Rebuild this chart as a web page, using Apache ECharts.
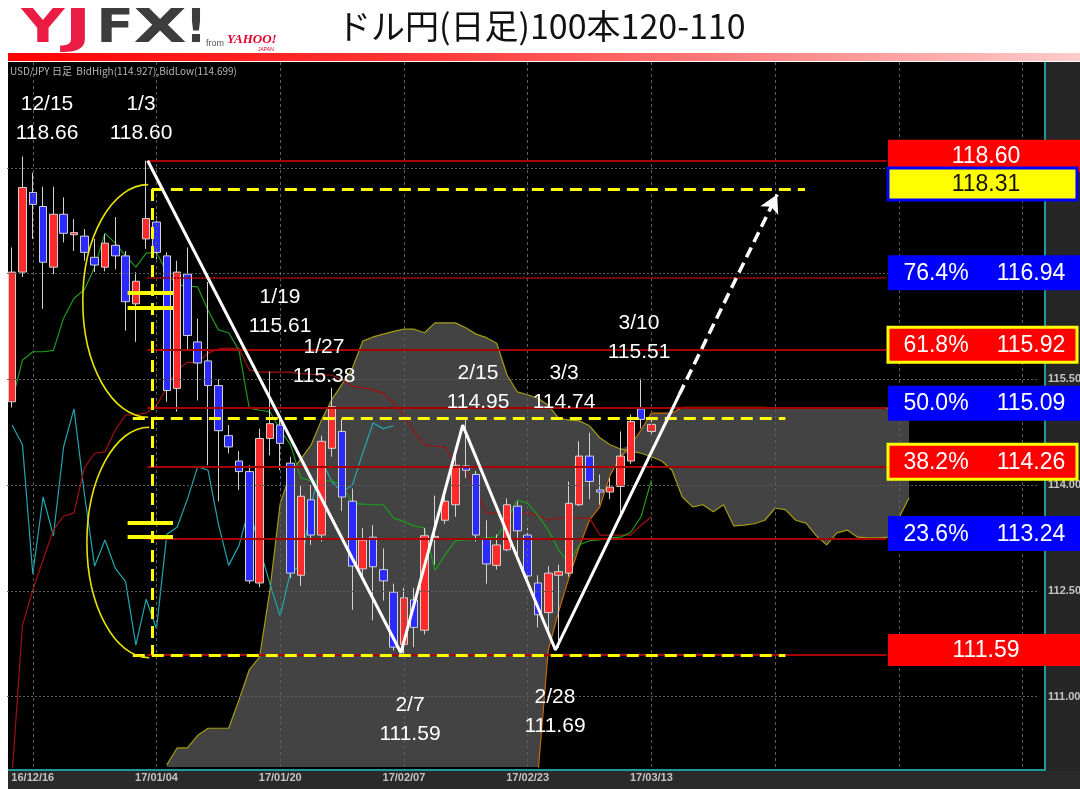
<!DOCTYPE html>
<html>
<head>
<meta charset="utf-8">
<script src="https://cdn.jsdelivr.net/npm/echarts@6/dist/echarts.min.js"></script>
<style>
  html, body { margin: 0; padding: 0; background: #fff; }
  #chart { width: 1080px; height: 789px; }
</style>
</head>
<body>
<div id="chart"></div>
<script>
// USD/JPY daily, 100 slots (63 candles + room for the shifted cloud)
const SLOTS = 100;
const dates = [
  '16/12/14','16/12/15','16/12/16','16/12/19','16/12/20','16/12/21','16/12/22','16/12/23','16/12/26','16/12/27',
  '16/12/28','16/12/29','16/12/30','17/01/03','17/01/04','17/01/05','17/01/06','17/01/09','17/01/10','17/01/11',
  '17/01/12','17/01/13','17/01/16','17/01/17','17/01/18','17/01/19','17/01/20','17/01/23','17/01/24','17/01/25',
  '17/01/26','17/01/27','17/01/30','17/01/31','17/02/01','17/02/02','17/02/03','17/02/06','17/02/07','17/02/08',
  '17/02/09','17/02/10','17/02/13','17/02/14','17/02/15','17/02/16','17/02/17','17/02/20','17/02/21','17/02/22',
  '17/02/23','17/02/24','17/02/27','17/02/28','17/03/01','17/03/02','17/03/03','17/03/06','17/03/07','17/03/08',
  '17/03/09','17/03/10','17/03/13'
];
const opens = [
  115.18,117.02,118.15,117.95,117.09,117.84,117.55,117.53,117.23,117.09,
  117.40,117.25,116.57,117.49,117.73,117.25,115.37,116.99,116.03,115.76,
  115.41,114.70,114.34,114.19,112.61,114.66,114.85,114.31,112.72,113.79,
  113.29,114.52,114.76,113.77,112.81,113.26,112.80,112.48,111.74,112.37,
  111.94,113.25,113.50,113.72,114.27,114.15,113.24,112.86,113.08,113.70,
  113.29,112.61,112.19,112.72,112.75,113.72,114.41,113.93,113.90,113.98,
  114.34,115.08,114.76
];
const closes = [
  117.02,118.22,117.98,117.16,117.84,117.57,117.58,117.30,117.12,117.43,
  117.25,116.60,116.89,117.78,117.30,115.34,117.02,116.12,115.73,115.41,
  114.77,114.54,114.19,112.64,114.66,114.87,114.59,112.75,113.84,113.29,
  114.62,115.11,113.83,112.85,113.22,112.84,112.64,111.70,112.40,111.98,
  113.28,113.27,113.77,114.28,114.21,113.29,112.88,113.15,113.72,113.35,
  112.71,112.16,112.75,112.77,113.74,114.41,114.05,113.90,113.97,114.41,
  114.90,114.93,114.86
];
const lows = [
  115.10,116.95,117.49,116.50,116.99,117.44,117.32,117.18,117.02,117.03,
  117.06,116.19,116.03,117.35,117.20,115.18,115.04,115.90,115.20,114.28,
  113.77,114.45,113.93,112.60,112.55,114.42,114.21,112.68,112.57,113.15,
  113.20,114.40,113.63,112.23,112.68,112.08,112.36,111.65,111.59,111.70,
  111.88,112.87,113.45,113.55,114.10,113.20,112.60,112.80,113.06,113.00,
  112.64,111.98,111.93,111.69,112.70,113.70,113.80,113.72,113.80,113.57,
  114.30,114.80,114.70
];
const highs = [
  117.37,118.66,118.43,118.23,118.23,118.08,117.77,117.63,117.49,117.56,
  117.80,117.32,117.02,118.60,117.81,117.30,117.18,117.37,116.36,116.88,
  115.50,114.85,114.48,114.28,114.80,115.61,114.98,114.40,114.00,114.00,
  114.70,115.38,114.94,113.95,113.39,113.43,113.10,112.60,112.54,112.54,
  113.39,113.85,113.95,114.45,114.95,114.20,113.50,113.30,113.81,113.77,
  113.39,112.72,112.85,112.87,114.05,114.62,114.74,114.15,114.10,114.76,
  115.00,115.51,114.93
];

// ichimoku lines
const tenkan = [
  115.20,115.77,115.89,115.89,115.91,116.37,116.65,116.77,117.09,117.57,
  117.43,117.25,117.09,117.29,117.30,117.01,116.84,116.82,116.81,116.48,
  116.20,116.16,115.91,115.09,115.06,115.04,114.78,114.57,114.10,114.06,
  114.06,114.06,114.00,113.74,113.73,113.72,113.72,113.53,113.48,113.42,
  113.39,112.79,113.01,113.21,113.22,113.23,113.25,113.26,113.50,113.79,
  113.74,113.57,113.36,113.08,112.89,113.15,113.21,113.22,113.25,113.26,
  113.33,113.55,114.07
];
const kijun = [
  109.90,112.01,112.51,112.94,113.36,113.56,113.60,114.24,114.45,114.47,
  114.78,114.99,115.00,115.02,115.13,115.38,115.63,115.74,115.74,115.87,
  115.93,115.94,115.94,115.63,115.60,115.60,115.60,115.60,115.58,115.57,
  115.56,115.56,115.49,115.40,115.38,115.35,115.30,115.16,114.99,114.75,
  114.57,114.55,114.54,114.28,114.21,113.93,113.60,113.60,113.60,113.60,
  113.60,113.57,113.50,113.53,113.53,113.53,113.53,113.29,113.29,113.29,
  113.29,113.43,113.55
];
const chikou = [
  114.85,114.57,112.74,113.83,113.28,114.55,115.08,113.88,112.85,113.22,
  112.82,112.63,111.73,112.38,111.96,113.30,113.40,113.80,114.26,114.21,
  113.45,112.86,113.14,113.68,113.10,112.60,112.14,112.77,112.85,113.70,
  114.35,114.05,113.90,114.00,114.45,114.88,114.80,114.84
];
const spanAStart = 15;
const spanA = [
  110.03,110.27,110.27,110.45,110.55,110.55,110.55,110.95,111.38,111.56,
  112.51,113.74,114.17,114.37,114.57,114.92,115.21,115.43,115.66,116.04,
  116.10,116.14,116.18,116.21,116.21,116.16,116.30,116.30,116.30,116.23,
  116.14,116.09,116.01,115.56,115.32,115.28,115.23,115.13,114.95,114.92,
  114.91,114.84,114.67,114.57,114.51,114.48,114.45,114.40,114.34,114.21,
  113.83,113.69,113.72,113.62,113.72,113.42,113.43,113.45,113.50,113.67,
  113.65,113.50,113.46,113.28,113.15,113.32,113.36,113.26,113.25,113.25,
  113.26,113.53,113.82
];
const spanBStart = 51;
const spanB = [
  109.90,111.66,112.20,112.68,113.12,113.50,113.69,114.14,114.40,114.57,
  114.78,115.02,115.02,115.02,115.10,115.10,115.10,115.10,115.10,115.10,
  115.10,115.10,115.10,115.09,115.09,115.09,115.09,115.09,115.09,115.09,
  115.09,115.09,115.09,115.09,115.09,115.09,115.09
];

// axes
const yMin = 110, yMax = 120;
const tickLabels = [111, 112.5, 114, 115.5, 117, 118.5];
const labelSlots = [2, 14, 26, 38, 50, 62];
const gridSlots = [2, 14, 26, 38, 50, 62, 74, 86, 98];

// drawn annotations (slot, price)
const fibLevels = [118.60, 116.94, 115.92, 115.09, 114.26, 113.24, 111.59];
const zigzag = [[13.15, 118.60], [37.7, 111.62], [43.7, 114.85], [52.7, 111.66], [64.7, 115.28]];
const arrowLeg = [[64.7, 115.28], [74.2, 118.12]];
const yellowH = [[13.55, 76.9, 118.20], [11.7, 75.0, 114.95], [11.7, 75.0, 111.59]];
const yellowV = [13.55, 118.20, 111.59];
const eqMarks = [116.72, 116.52, 113.46, 113.26];
const ellipses = [[13.2, 118.26, 114.96, 6.85], [13.3, 114.82, 111.55, 7.25]];

const notes = [
  ['12/15', '118.66', 47, 104], ['1/3', '118.60', 141, 104], ['1/19', '115.61', 280, 297],
  ['1/27', '115.38', 324, 347], ['2/15', '114.95', 478, 373], ['3/3', '114.74', 564, 373],
  ['3/10', '115.51', 639, 323], ['2/7', '111.59', 410, 705], ['2/28', '111.69', 555, 697]
];
const boxes = [
  { level: 118.60, pct: '', text: '118.60', kind: 'red' },
  { level: 118.20, pct: '', text: '118.31', kind: 'yellow' },
  { level: 116.94, pct: '76.4%', text: '116.94', kind: 'blue' },
  { level: 115.92, pct: '61.8%', text: '115.92', kind: 'redY' },
  { level: 115.09, pct: '50.0%', text: '115.09', kind: 'blue' },
  { level: 114.26, pct: '38.2%', text: '114.26', kind: 'redY' },
  { level: 113.24, pct: '23.6%', text: '113.24', kind: 'blue' },
  { level: 111.59, pct: '', text: '111.59', kind: 'red' }
];

const pad = (start, arr) => Array.from({ length: SLOTS }, (_, i) => {
  const k = i - start;
  return k >= 0 && k < arr.length ? arr[k] : null;
});
const cats = Array.from({ length: SLOTS }, (_, i) => dates[i] || ('+' + i));
const A = pad(spanAStart, spanA);
const B = pad(spanBStart, spanB);
// cloud: below-chart span B before it appears -> fill down to the floor
const cloudBase = A.map((a, i) => a == null ? null : Math.min(a, B[i] == null ? yMin : B[i]));
const cloudBand = A.map((a, i) => a == null ? null : Math.abs(a - (B[i] == null ? yMin : B[i])));
const candles = opens.map((o, i) => [o, closes[i], lows[i], highs[i]]);

const thinLine = (name, data, color) => ({
  name, type: 'line', data, symbol: 'none', z: 3, silent: true,
  lineStyle: { color, width: 1.2 }
});

const chart = echarts.init(document.getElementById('chart'));
chart.setOption({
  animation: false,
  backgroundColor: '#fff',
  grid: { left: 7, right: 42, top: 62, bottom: 22, outerBoundsMode: 'none', containLabel: false },
  xAxis: [
    {
      type: 'category', data: cats, boundaryGap: true,
      axisLine: { show: false }, axisTick: { show: false }, splitLine: { show: false },
      axisLabel: {
        interval: (i) => labelSlots.includes(i),
        color: '#c4c4c4', fontSize: 11, fontWeight: 'bold', margin: 5,
        fontFamily: 'Liberation Sans Narrow, Liberation Sans, sans-serif'
      }
    },
    { type: 'value', min: -0.5, max: 99.5, show: false, position: 'top' }
  ],
  yAxis: {
    type: 'value', position: 'right', min: yMin, max: yMax, interval: 0.5,
    splitLine: { show: false }, axisLine: { show: false }, axisTick: { show: false },
    axisLabel: {
      margin: 10, color: '#c4c4c4', fontSize: 11, fontWeight: 'bold',
      fontFamily: 'Liberation Sans Narrow, Liberation Sans, sans-serif',
      formatter: (v) => tickLabels.includes(Math.round(v * 10) / 10) ? v.toFixed(3) : ''
    }
  },
  series: [
    {
      name: 'kumoBase', type: 'line', stack: 'kumo', data: cloudBase, symbol: 'none',
      lineStyle: { width: 0, opacity: 0 }, z: 1, silent: true
    },
    {
      name: 'kumo', type: 'line', stack: 'kumo', data: cloudBand, symbol: 'none',
      lineStyle: { width: 0, opacity: 0 }, areaStyle: { color: '#434343', opacity: 1 },
      z: 1, silent: true
    },
    {
      name: 'grid', type: 'line', data: [], z: 2, silent: true,
      markLine: {
        silent: true, symbol: 'none', label: { show: false }, animation: false,
        data: [
          ...tickLabels.map((v) => ({ yAxis: v, lineStyle: { color: '#5c5c5c', width: 1, type: [2, 2] } })),
          ...gridSlots.map((s) => ({ xAxis: s, lineStyle: { color: '#5c5c5c', width: 1, type: [3, 3] } }))
        ]
      }
    },
    thinLine('spanA', A, '#a39c12'),
    thinLine('spanB', B, '#c96a05'),
    thinLine('chikou', chikou, '#22a6b0'),
    thinLine('kijun', kijun, '#a31212'),
    thinLine('tenkan', tenkan, '#1c9c1c'),
    {
      name: 'fib', type: 'line', xAxisIndex: 1, data: [], z: 3, silent: true,
      markLine: {
        silent: true, symbol: 'none', label: { show: false }, animation: false,
        data: fibLevels.map((v) => [
          { coord: [13.1, v], lineStyle: { color: '#a80000', width: 2, type: v === 116.94 ? [2, 1] : 'solid' } },
          { coord: [84.8, v] }
        ])
      }
    },
    {
      name: 'candles', type: 'candlestick', data: candles, barWidth: 8, z: 4, silent: true,
      itemStyle: {
        color: '#ff2b2b', color0: '#2b2bff',
        borderColor: '#d2d2d2', borderColor0: '#d2d2d2', borderColorDoji: '#d2d2d2', borderWidth: 1
      }
    },
    {
      name: 'zigzag', type: 'line', xAxisIndex: 1, data: zigzag, symbol: 'none', z: 6, silent: true,
      lineStyle: { color: '#ffffff', width: 3 },
      markLine: {
        silent: true, symbol: 'none', label: { show: false }, animation: false,
        data: [
          ...yellowH.map(([x0, x1, v]) => [
            { coord: [x0, v], lineStyle: { color: '#ffff00', width: 3, type: [12, 7] } },
            { coord: [x1, v] }
          ]),
          [
            { coord: [yellowV[0], yellowV[1]], lineStyle: { color: '#ffff00', width: 3, type: [12, 7] } },
            { coord: [yellowV[0], yellowV[2]] }
          ],
          ...eqMarks.map((v) => [
            { coord: [11.2, v], lineStyle: { color: '#ffff00', width: 4, type: 'solid' } },
            { coord: [15.6, v] }
          ]),
          [
            { coord: arrowLeg[0], symbol: 'none', lineStyle: { color: '#ffffff', width: 3.5, type: [11, 6] } },
            { coord: arrowLeg[1], symbol: 'arrow', symbolSize: [15, 18] }
          ]
        ]
      }
    },
    {
      name: 'ellipses', type: 'custom', xAxisIndex: 1, data: ellipses, z: 6, silent: true,
      renderItem: (params, api) => {
        const pT = api.coord([api.value(0), api.value(1)]);
        const pB = api.coord([api.value(0), api.value(2)]);
        const xl = api.coord([api.value(3), api.value(1)])[0];
        const cx = pT[0], my = (pT[1] + pB[1]) / 2, k = 0.5523, rx = cx - xl;
        const st = { stroke: '#e8e400', lineWidth: 1.6, fill: 'none' };
        return {
          type: 'group',
          children: [
            { type: 'bezierCurve', style: st, shape: {
              x1: cx, y1: pT[1], cpx1: cx - k * rx, cpy1: pT[1],
              cpx2: xl, cpy2: my - k * (my - pT[1]), x2: xl, y2: my } },
            { type: 'bezierCurve', style: st, shape: {
              x1: xl, y1: my, cpx1: xl, cpy1: my + k * (pB[1] - my),
              cpx2: cx - k * rx, cpy2: pB[1], x2: cx, y2: pB[1] } }
          ]
        };
      }
    }
  ]
});

// frame, header and labels
const txt = (text, x, y, font, fill, align) => ({
  type: 'text', z: 100, silent: true,
  style: { text, x, y, font, fill, textAlign: align || 'center', textVerticalAlign: 'middle',
           align: align || 'center', verticalAlign: 'middle' }
});
// logo letter, stretched horizontally around its centre
const logoLetter = (text, x, sx, fill) => ({
  type: 'text', z: 100, silent: true, x, y: 30, scaleX: sx,
  style: { text, x: 0, y: 0, font: 'bold 46px DejaVu Sans', fill,
           textAlign: 'center', textVerticalAlign: 'middle', align: 'center', verticalAlign: 'middle' }
});
const py = (v) => chart.convertToPixel({ yAxisIndex: 0 }, v);
const g = [
  { type: 'rect', z: -10, silent: true, shape: { x: 8, y: 62, width: 1037, height: 708 }, style: { fill: '#000' } },
  { type: 'rect', z: -10, silent: true, shape: { x: 1046, y: 62, width: 34, height: 727 }, style: { fill: '#262626' } },
  { type: 'rect', z: -10, silent: true, shape: { x: 8, y: 771, width: 1072, height: 18 }, style: { fill: '#2a2a2a' } },
  { type: 'line', z: 50, silent: true, shape: { x1: 1045, y1: 62, x2: 1045, y2: 771 }, style: { stroke: '#1d9a9a', lineWidth: 2 } },
  { type: 'line', z: 50, silent: true, shape: { x1: 8, y1: 770, x2: 1046, y2: 770 }, style: { stroke: '#1d9a9a', lineWidth: 2 } },
  {
    type: 'rect', z: 10, silent: true, shape: { x: 8, y: 53, width: 1072, height: 8 },
    style: { fill: new echarts.graphic.LinearGradient(0, 0, 1, 0, [
      { offset: 0, color: '#ff0000' }, { offset: 0.4, color: '#ff3a3a' }, { offset: 1, color: '#ffcccc' }
    ]) }
  },
  logoLetter('Y', 43, 1.3, '#ea1c44'),
  logoLetter('J', 78, 1.6, '#ea1c44'),
  logoLetter('F', 115, 1.2, '#3d3d3d'),
  logoLetter('X', 160, 1.5, '#3d3d3d'),
  logoLetter('!', 196, 1.0, '#3d3d3d'),
  txt('from', 206, 44, '9px Liberation Sans', '#555', 'left'),
  txt('YAHOO!', 227, 40, 'italic bold 13px Liberation Serif', '#e0002a', 'left'),
  txt('JAPAN', 258, 50, '5px Liberation Sans', '#e0002a', 'left'),
  txt('ドル円(日足)100本120-110', 337, 26, '34px Noto Sans CJK JP', '#111', 'left'),
  txt('USD/JPY 日足  BidHigh(114.927),BidLow(114.699)', 10, 71,
      '10px Liberation Sans Narrow, Noto Sans CJK JP', '#b5b5b5', 'left')
];
notes.forEach(([d, v, x, y]) => {
  g.push(txt(d, x, y, '21px Liberation Sans', '#fff'));
  g.push(txt(v, x, y + 29, '21px Liberation Sans', '#fff'));
});
const boxStyle = {
  red: { fill: '#ff0000', stroke: null, color: '#fff' },
  redY: { fill: '#ff0000', stroke: '#ffff00', color: '#fff' },
  blue: { fill: '#0000ff', stroke: null, color: '#fff' },
  yellow: { fill: '#ffff00', stroke: '#0000ff', color: '#111' }
};
boxes.forEach((b) => {
  const s = boxStyle[b.kind];
  const cy = py(b.level) - 5;
  const h = b.pct ? 35 : 32;
  g.push({
    type: 'rect', z: 90, silent: true,
    shape: { x: 888, y: cy - h / 2, width: s.stroke ? 189 : 194, height: h },
    style: { fill: s.fill, stroke: s.stroke || 'none', lineWidth: s.stroke ? 3 : 0 }
  });
  if (b.pct) {
    g.push(txt(b.pct, 936, cy + 1, '23px Liberation Sans', s.color));
    g.push(txt(b.text, 1031, cy + 1, '23px Liberation Sans', s.color));
  } else {
    g.push(txt(b.text, 986, cy + 1, '23px Liberation Sans', s.color));
  }
});
chart.setOption({ graphic: g });
</script>
</body>
</html>
